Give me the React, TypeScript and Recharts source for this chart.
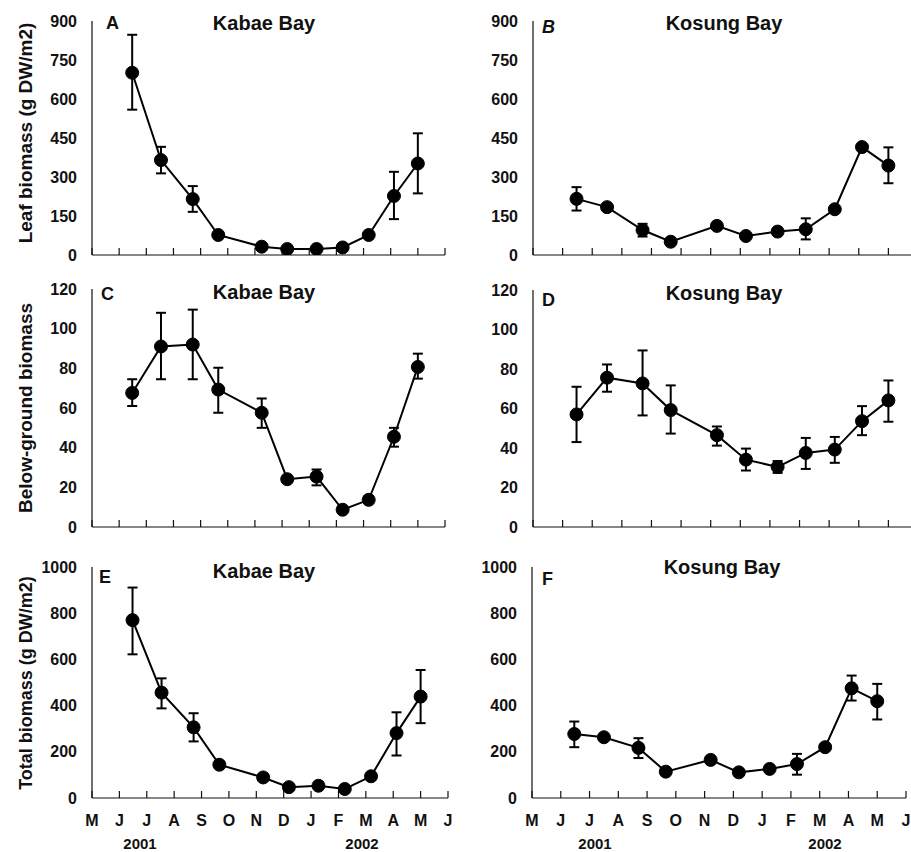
import { LineChart, XAxis, YAxis, Line, ErrorBar } from 'recharts'

// month letters along the x axis, May 2001 .. June 2002
const months = ['M', 'J', 'J', 'A', 'S', 'O', 'N', 'D', 'J', 'F', 'M', 'A', 'M', 'J']
const monthTicks = [0, 1, 2, 3, 4, 5, 6, 7, 8, 9, 10, 11, 12, 13]

// sampling dates (in months after 1 May 2001)
const kabaeDates = [1.48, 2.54, 3.71, 4.65, 6.25, 7.19, 8.27, 9.23, 10.19, 11.12, 12.0]
const kosungDates = [1.47, 2.5, 3.7, 4.65, 6.21, 7.19, 8.26, 9.21, 10.19, 11.11, 12.0]

// leaf biomass (g DW/m2)
const kabaeLeaf = [701, 365, 215, 77, 32, 23, 23, 29, 77, 227, 352]
const kabaeLeafErr = [[142, 146], [51, 51], [49, 50], [6, 6], [4, 4], [3, 3], [3, 3], [4, 4], [6, 6], [89, 93], [115, 116]]
const kosungLeaf = [216, 184, 96, 51, 112, 73, 90, 99, 176, 415, 344]
const kosungLeafErr = [[45, 45], [8, 8], [25, 24], [6, 6], [10, 10], [6, 6], [8, 8], [39, 42], [8, 8], [8, 8], [68, 70]]

// below-ground biomass
const kabaeBelow = [67.6, 91, 92, 69.3, 57.6, 24.1, 25.4, 8.7, 13.7, 45.5, 80.7]
const kabaeBelowErr = [[6.6, 6.9], [16.5, 17], [17.5, 17.6], [11.7, 11], [7.6, 7.2], [1, 1], [4.4, 3.6], [1, 1], [1.5, 1.5], [5, 4.5], [5.9, 6.7]]
const kosungBelow = [57, 75.6, 72.7, 59.2, 46.5, 34.1, 30.4, 37.5, 39.2, 53.6, 64.1]
const kosungBelowErr = [[14, 14], [7.1, 6.7], [16.2, 16.7], [11.9, 12.5], [5.3, 4.4], [5.5, 5.6], [3, 3], [8.1, 7.6], [6.7, 6.4], [7.1, 7.6], [10.8, 10.1]]

// total biomass (g DW/m2)
const kabaeTotal = [770, 456, 306, 144, 89, 47, 53, 39, 94, 281, 439]
const kabaeTotalErr = [[148, 141], [68, 62], [61, 61], [12, 12], [6, 6], [4, 4], [4, 4], [4, 4], [10, 10], [97, 90], [115, 115]]
const kosungTotal = [277, 263, 217, 114, 165, 111, 126, 147, 220, 475, 419]
const kosungTotalErr = [[57, 54], [8, 8], [44, 42], [10, 10], [8, 8], [5, 5], [6, 6], [46, 44], [8, 8], [53, 55], [79, 75]]

const leafTicks = [0, 150, 300, 450, 600, 750, 900]
const belowTicks = [0, 20, 40, 60, 80, 100, 120]
const totalTicks = [0, 200, 400, 600, 800, 1000]

const FONT = '"Liberation Sans", Arial, Helvetica, sans-serif'
const INK = '#111'
const YW = 70
const XH = 30

const rowsOf = (dates: number[], vals: number[], errs: number[][]) =>
  dates.map((m, i) => ({ m, v: vals[i], e: errs[i] }))

type PanelProps = {
  x: number
  y: number
  w: number
  h: number
  max: number
  ticks: number[]
  rows: { m: number; v: number; e: number[] }[]
  showMonths?: boolean
}

function Panel({ x, y, w, h, max, ticks, rows, showMonths }: PanelProps) {
  const tickStyle = { fill: INK, fontSize: 16, fontWeight: 700, fontFamily: FONT }
  return (
    <div style={{ position: 'absolute', left: x - YW, top: y - 30 }}>
      <LineChart
        width={YW + w + 12}
        height={30 + h + 10 + XH}
        data={rows}
        margin={{ top: 30, right: 12, bottom: 10, left: 0 }}
      >
        <XAxis
          type="number"
          dataKey="m"
          domain={[0, 13]}
          ticks={monthTicks}
          interval={0}
          height={XH}
          tickSize={-7}
          tickMargin={24}
          tickFormatter={(t: number) => (showMonths ? months[t] : '')}
          axisLine={{ stroke: INK, strokeWidth: 1.2 }}
          tickLine={{ stroke: INK, strokeWidth: 1.2 }}
          tick={tickStyle}
        />
        <YAxis
          type="number"
          domain={[0, max]}
          ticks={ticks}
          interval={0}
          allowDataOverflow
          width={YW}
          tickLine={false}
          tickSize={6}
          tickMargin={9}
          axisLine={{ stroke: INK, strokeWidth: 1.2 }}
          tick={tickStyle}
        />
        <Line
          type="linear"
          dataKey="v"
          stroke="#000"
          strokeWidth={2}
          dot={{ r: 6.5, fill: '#000', stroke: '#000', strokeWidth: 1 }}
          activeDot={false}
          isAnimationActive={false}
        >
          <ErrorBar dataKey="e" direction="y" width={5} stroke="#000" strokeWidth={2} isAnimationActive={false} />
        </Line>
      </LineChart>
    </div>
  )
}

export default function App() {
  const txt = { fontFamily: FONT, fontWeight: 700, fill: INK }
  return (
    <div style={{ position: 'absolute', left: 0, top: 0, width: 911, height: 852, overflow: 'hidden', background: '#fff' }}>
      <Panel x={92} y={21} w={353} h={234} max={900} ticks={leafTicks} rows={rowsOf(kabaeDates, kabaeLeaf, kabaeLeafErr)} />
      <Panel x={533} y={21} w={385} h={234} max={900} ticks={leafTicks} rows={rowsOf(kosungDates, kosungLeaf, kosungLeafErr)} />
      <Panel x={92} y={289} w={353} h={238} max={120} ticks={belowTicks} rows={rowsOf(kabaeDates, kabaeBelow, kabaeBelowErr)} />
      <Panel x={533} y={290} w={385} h={237} max={120} ticks={belowTicks} rows={rowsOf(kosungDates, kosungBelow, kosungBelowErr)} />
      <Panel x={92} y={567} w={356} h={231} max={1000} ticks={totalTicks} rows={rowsOf(kabaeDates, kabaeTotal, kabaeTotalErr)} showMonths />
      <Panel x={532} y={567} w={374} h={231} max={1000} ticks={totalTicks} rows={rowsOf(kosungDates, kosungTotal, kosungTotalErr)} showMonths />

      <svg width={911} height={852} style={{ position: 'absolute', left: 0, top: 0, pointerEvents: 'none' }}>
        <g style={txt}>
          <text transform="translate(32,133) rotate(-90)" textAnchor="middle" fontSize={19}>Leaf biomass (g DW/m2)</text>
          <text transform="translate(32,408) rotate(-90)" textAnchor="middle" fontSize={19}>Below-ground biomass</text>
          <text transform="translate(32,683) rotate(-90)" textAnchor="middle" fontSize={18}>Total biomass (g DW/m2)</text>

          <text x={264} y={30} textAnchor="middle" fontSize={20}>Kabae Bay</text>
          <text x={724} y={30} textAnchor="middle" fontSize={20}>Kosung Bay</text>
          <text x={264} y={299} textAnchor="middle" fontSize={20}>Kabae Bay</text>
          <text x={724} y={300} textAnchor="middle" fontSize={20}>Kosung Bay</text>
          <text x={264} y={578} textAnchor="middle" fontSize={20}>Kabae Bay</text>
          <text x={722} y={574} textAnchor="middle" fontSize={20}>Kosung Bay</text>

          <text x={106} y={29} fontSize={18}>A</text>
          <text x={542} y={33} fontSize={18} fontStyle="italic">B</text>
          <text x={101} y={300} fontSize={18}>C</text>
          <text x={542} y={306} fontSize={18}>D</text>
          <text x={99} y={583} fontSize={18}>E</text>
          <text x={542} y={585} fontSize={18}>F</text>

          <text x={140} y={849} textAnchor="middle" fontSize={15}>2001</text>
          <text x={362} y={849} textAnchor="middle" fontSize={15}>2002</text>
          <text x={595} y={849} textAnchor="middle" fontSize={15}>2001</text>
          <text x={825} y={849} textAnchor="middle" fontSize={15}>2002</text>
        </g>
      </svg>
    </div>
  )
}
